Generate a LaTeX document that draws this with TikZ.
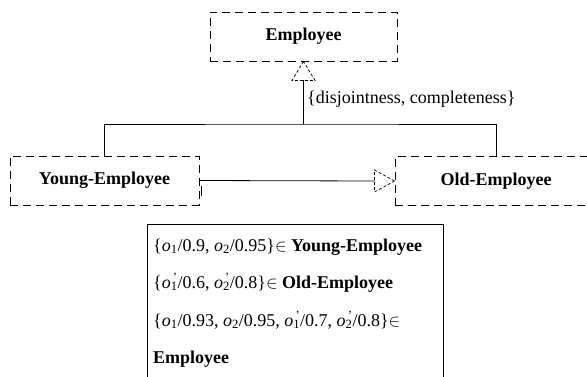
\documentclass[tikz,border=0pt]{standalone}
\usepackage{fontspec}
\setmainfont{Liberation Serif}
% object o_i (optionally primed) with subscript index
\newcommand{\obj}[1]{\textit{o}\textsubscript{#1}}
\newcommand{\objp}[1]{\textit{o}\rlap{\textsubscript{#1}}\textsuperscript{\,'}}
\begin{document}
\begin{tikzpicture}[x=1pt,y=-1pt,
  txt/.style={font=\fontsize{18}{21}\selectfont, inner sep=0pt},
  cls/.style={draw, dash pattern=on 8pt off 5pt, line width=0.9pt,
    minimum height=49pt, inner sep=0pt, font=\fontsize{18}{21}\selectfont\bfseries},
  link/.style={line width=0.8pt},
  tri/.style={dash pattern=on 3pt off 2pt, line width=0.7pt}]
\useasboundingbox (0,0) rectangle (587,376);
\clip (0,0) rectangle (587,376);

% classes
\node[cls, minimum width=187pt] (emp) at (303.5,36.5) {Employee};
\node[cls, minimum width=189pt] (young) at (104.5,180.5) {Young-Employee};
\node[cls, minimum width=202pt] (old) at (496,181) {Old-Employee};

% generalization with its constraint label
\coordinate (gbase) at (303.5,80);
\coordinate (join) at (303.5,124);
\draw[tri] (emp.south) -- ++(-11.5,19) -- ++(23,0) -- cycle;
\draw[link] (gbase) -- (join);
\draw[link] (young.north) |- (join) -| (old.north);
\node[txt, anchor=base west] (cons) at (307,103) {\{disjointness, completeness\}};

% association from Young-Employee to Old-Employee
\coordinate (abase) at (375,181);
\draw[link] ([xshift=2pt,yshift=-5pt]young.east) -- ++(0,10);
\draw[link] (young.east) -- (abase);
\draw[tri] (old.west) -- ++(-20,-11) -- ++(0,22) -- cycle;

% membership facts
\node[draw, line width=0.9pt, minimum width=296pt, minimum height=170pt,
  anchor=north west, inner sep=0pt] (facts) at (147,224) {};
\node[txt, anchor=base west] (f1) at (153,251)
  {\{\obj{1}/0.9, \obj{2}/0.95\}$\in$ \textbf{Young-Employee}};
\node[txt, anchor=base west] (f2) at (153,288)
  {\{\objp{1}/0.6, \objp{2}/0.8\}$\in$ \textbf{Old-Employee}};
\node[txt, anchor=base west] (f3) at (153,326)
  {\{\obj{1}/0.93, \obj{2}/0.95, \objp{1}/0.7, \objp{2}/0.8\}$\in$};
\node[txt, anchor=base west] (f4) at (153,363) {\textbf{Employee}};
\end{tikzpicture}
\end{document}
